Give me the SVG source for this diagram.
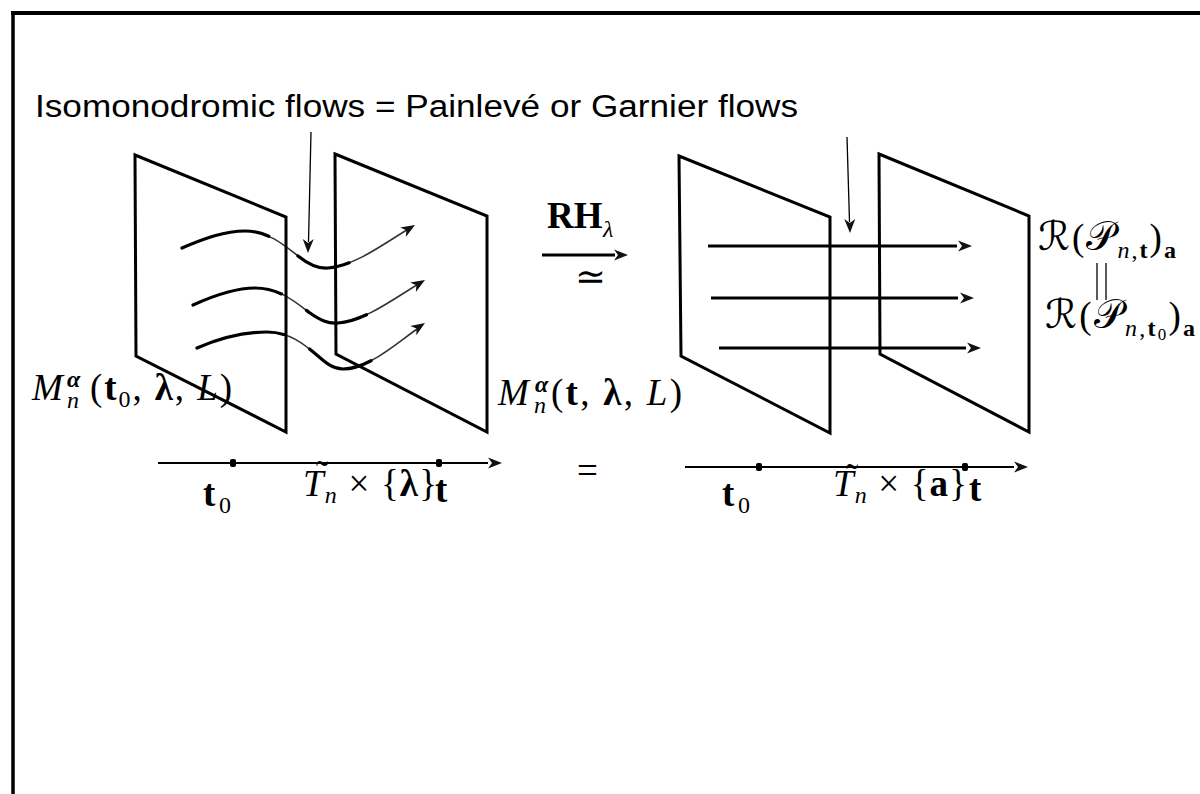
<svg xmlns="http://www.w3.org/2000/svg" xmlns:xlink="http://www.w3.org/1999/xlink" width="1200" height="794" viewBox="0 0 1200 794">
<style>
.pl{fill:none;stroke:#000;stroke-width:3;stroke-linejoin:miter}
.fl{fill:none;stroke:#333;stroke-width:1.6}
.fk{fill:none;stroke:#000;stroke-width:3.2;stroke-linecap:round}
.ln{stroke:#000;stroke-width:3}
.th{stroke:#000;stroke-width:1.3}
.ax{stroke:#000;stroke-width:2.2}
.m{font-family:"Liberation Serif","DejaVu Serif",serif;font-size:37px;fill:#000}
.c{font-family:"DejaVu Serif","DejaVu Sans","Noto Sans",serif;font-size:40px}
.i{font-style:italic}
.b{font-weight:bold}
.s{font-size:24px}
.ss{font-size:17px}
.ttl{font-family:"Liberation Sans","DejaVu Sans",sans-serif;font-size:31px;fill:#000}
</style>
<defs>
<path id="ah" d="M0,0 L-14,-5.5 L-10,0 L-14,5.5 Z" fill="#111"/>
<rect id="dot" x="-3" y="-4" width="6" height="8" rx="2" fill="#000"/>
</defs>
<rect width="1200" height="794" fill="#fff"/>
<g id="frame">
<line x1="11" y1="13" x2="1200" y2="13" stroke="#000" stroke-width="4"/>
<line x1="13" y1="11" x2="13" y2="794" stroke="#000" stroke-width="3.5"/>
</g>
<g id="title"><text class="ttl" x="35" y="117" textLength="763" lengthAdjust="spacingAndGlyphs">Isomonodromic flows = Painlevé or Garnier flows</text></g>

<g id="left-back-plane">
<polygon class="pl" points="335,154 487,216 487,432 336,354"/>
</g>
<g id="connectors">
<path class="fl" d="M182,248 C205,238 225,231 245,231 C268,231 284,245 298,256 C308,264 318,269 328,268 C355,266 385,243 410,228"/>
<path class="fk" pathLength="100" stroke-dasharray="36 14 22 200" d="M182,248 C205,238 225,231 245,231 C268,231 284,245 298,256 C308,264 318,269 328,268 C355,266 385,243 410,228"/>
<use xlink:href="#ah" transform="translate(415,225) rotate(-31)"/>
<path class="fl" d="M193,305 C215,295 235,288 255,288 C280,288 295,302 310,313 C320,320 328,324 338,323 C365,321 395,298 420,283"/>
<path class="fk" pathLength="100" stroke-dasharray="37 12 26 200" d="M193,305 C215,295 235,288 255,288 C280,288 295,302 310,313 C320,320 328,324 338,323 C365,321 395,298 420,283"/>
<use xlink:href="#ah" transform="translate(425,280) rotate(-31)"/>
<path class="fl" d="M197,348 C220,338 245,332 267,332 C290,332 305,345 318,356 C326,363 333,369 343,369 C370,369 400,340 420,327"/>
<path class="fk" pathLength="100" stroke-dasharray="36 12 28 200" d="M197,348 C220,338 245,332 267,332 C290,332 305,345 318,356 C326,363 333,369 343,369 C370,369 400,340 420,327"/>
<use xlink:href="#ah" transform="translate(425,323) rotate(-33)"/>
<line class="th" x1="311" y1="132" x2="308.5" y2="242"/>
<use xlink:href="#ah" transform="translate(308,253) rotate(91)"/>
<line class="th" x1="847" y1="137" x2="849.5" y2="222"/>
<use xlink:href="#ah" transform="translate(850,233) rotate(89)"/>
<line class="ln" x1="542" y1="255" x2="615" y2="255"/>
<use xlink:href="#ah" transform="translate(628,255)"/>
<line class="ln" x1="708" y1="246" x2="957" y2="246"/>
<use xlink:href="#ah" transform="translate(972,246)"/>
<line class="ln" x1="711" y1="298" x2="958" y2="298"/>
<use xlink:href="#ah" transform="translate(974,298)"/>
<line class="ln" x1="719" y1="348" x2="966" y2="348"/>
<use xlink:href="#ah" transform="translate(981,348)"/>
<line class="ax" x1="158" y1="463" x2="488" y2="463"/>
<use xlink:href="#ah" transform="translate(502,463)"/>
<line class="ax" x1="685" y1="467" x2="1014" y2="467"/>
<use xlink:href="#ah" transform="translate(1028,467)"/>
<line class="th" x1="1097" y1="263" x2="1097" y2="300"/>
<line class="th" x1="1106" y1="263" x2="1106" y2="300"/>
</g>
<g id="left-front-plane">
<polygon class="pl" points="135,155 286,217 286,432 136,356"/>
</g>
<g id="right-planes">
<polygon class="pl" points="679,156 830,217 830,433 681,356"/>
<polygon class="pl" points="879,154 1029,216 1029,432 880,354"/>
</g>
<g id="axis-points">
<use xlink:href="#dot" x="233" y="463"/>
<use xlink:href="#dot" x="439" y="463"/>
<use xlink:href="#dot" x="759" y="467"/>
<use xlink:href="#dot" x="965" y="467"/>
</g>

<g id="label-M0">
<text class="m i" x="32" y="400">M</text>
<text class="m b i s" x="67" y="387">α</text>
<text class="m i s" x="67" y="408">n</text>
<text class="m" x="90" y="400" textLength="142">(<tspan class="b">t</tspan><tspan class="s" dy="7">0</tspan><tspan dy="-7">, </tspan><tspan class="b">λ</tspan>, <tspan class="i">L</tspan>)</text>
</g>
<g id="label-M">
<text class="m i" x="498" y="405">M</text>
<text class="m b i s" x="535" y="392">α</text>
<text class="m i s" x="534" y="413">n</text>
<text class="m" x="551" y="405" textLength="131">(<tspan class="b">t</tspan>, <tspan class="b">λ</tspan>, <tspan class="i">L</tspan>)</text>
</g>
<g id="label-RH">
<text class="m b" x="547" y="228">RH</text>
<text class="m i s" x="603" y="237">λ</text>
<text class="m" x="575" y="289" font-size="32" font-family="DejaVu Serif">≃</text>
</g>
<g id="label-eq"><text class="m" x="577" y="483" font-size="46">=</text></g>
<g id="axis-left-labels">
<text class="m"><tspan class="b" x="203" y="506">t</tspan><tspan class="s" x="219" y="513">0</tspan></text>
<text class="m" x="303" y="496" textLength="134"><tspan class="i">T</tspan><tspan class="i s" dy="7">n</tspan><tspan dy="-7"> × {</tspan><tspan class="b">λ</tspan>}</text>
<text class="m b" x="435" y="502">t</text>
<text class="m" x="316" y="487">˜</text>
</g>
<g id="axis-right-labels">
<text class="m"><tspan class="b" x="722" y="506">t</tspan><tspan class="s" x="738" y="513">0</tspan></text>
<text class="m" x="833" y="496" textLength="134"><tspan class="i">T</tspan><tspan class="i s" dy="7">n</tspan><tspan dy="-7"> × {</tspan><tspan class="b">a</tspan>}</text>
<text class="m b" x="969" y="501">t</text>
<text class="m" x="846" y="490">˜</text>
</g>
<g id="label-R1">
<text class="m" x="1038" y="250" textLength="138"><tspan class="c">ℛ</tspan>(<tspan class="c">𝒫</tspan><tspan class="i s" dy="8">n</tspan><tspan class="s">,</tspan><tspan class="b s">t</tspan><tspan dy="-8">)</tspan><tspan class="b s" dy="8">a</tspan></text>
</g>
<g id="label-R2">
<text class="m" x="1045" y="328" textLength="150"><tspan class="c">ℛ</tspan>(<tspan class="c">𝒫</tspan><tspan class="i s" dy="8">n</tspan><tspan class="s">,</tspan><tspan class="b s">t</tspan><tspan class="ss" dy="4">0</tspan><tspan dy="-12">)</tspan><tspan class="b s" dy="8">a</tspan></text>
</g>
</svg>
